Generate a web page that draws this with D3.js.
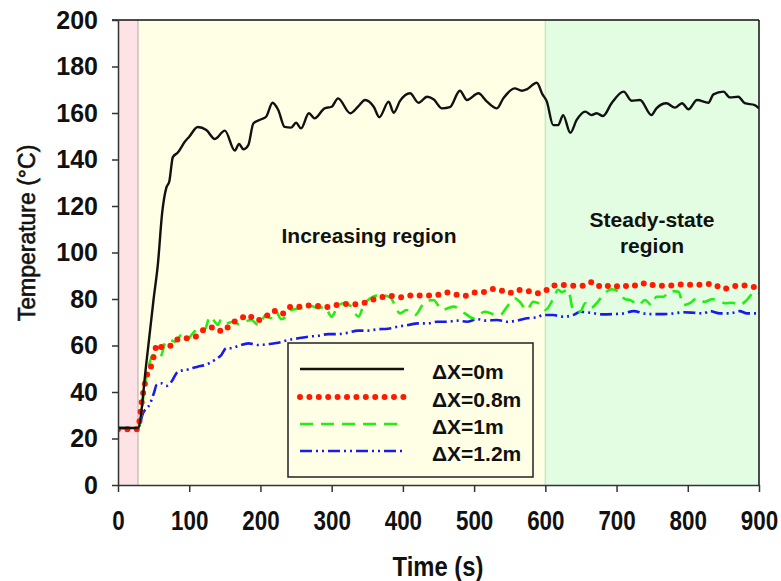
<!DOCTYPE html>
<html>
<head>
<meta charset="utf-8">
<script src="https://cdn.jsdelivr.net/npm/d3@7"></script>
<style>
  html, body { margin: 0; padding: 0; background: #ffffff; }
  svg { display: block; font-family: "Liberation Sans", Arial, sans-serif; }
</style>
</head>
<body>
<svg id="chart" width="781" height="581"></svg>
<script>
// ---------------- DATA ----------------
const xTicks = [0, 100, 200, 300, 400, 500, 600, 700, 800, 900];
const yTicks = [0, 20, 40, 60, 80, 100, 120, 140, 160, 180, 200];

const regionBounds = [0, 28, 600, 900];           // ignition / increasing / steady-state (s)
const regionNames = ["", "Increasing region", "Steady-state\nregion"];

const seriesNames = ["\u0394X=0m", "\u0394X=0.8m", "\u0394X=1m", "\u0394X=1.2m"];

const blackT = [0,28,40,50,56,62,68,72,77,84,94,100,112,124,136,150,164,170,176,183,190,201,208,217,225,234,243,250,257,268,276,290,300,309,326,337,347,359,367,380,387,396,410,422,434,443,455,466,480,490,506,518,532,541,557,567,574,588,596,602,611,618,625,635,644,656,665,672,681,693,710,721,733,749,756,770,782,792,801,813,829,836,850,859,871,880,894,900];
const blackV = [24.5,24.5,53,80,95,117,128,130.5,141,143,147.7,149.8,154,152.7,148.8,152.4,143.8,146.7,144.4,146.2,155.5,157.3,158.4,164.4,161.3,154,153.7,155.8,153.4,159.9,157.7,162,162.7,166.3,159.9,162.7,165.6,162.7,158.2,164.9,160.1,165.2,168.5,164.4,167,165.9,162,162.5,169.6,165.6,168.5,164.9,162,166.3,170.6,169.6,170.2,173,168,165,154.8,154.8,159.1,151.5,157,160.6,159.1,159.9,158.7,164.2,169.2,165.3,165.6,159.1,162,164.2,162.3,164.2,161.6,165.6,164.4,168,169.2,166.7,167,164.2,163.4,162];

const redT = [0,28,30,33,37,40,47,51,55,62,73,82,96,109,122,136,147,159,171,183,193,206,218,229,243,255,267,280,294,307,321,334,348,361,374,387,400,413,425,447,460,473,486,499,512,525,536,548,561,574,587,598,609,621,633,643,655,667,680,694,707,720,729,742,755,769,783,796,809,822,835,849,862,875,888,900];
const redV = [24,24,27.2,35,42.3,46.6,51.6,56.3,60.6,59.2,59.8,62.4,63.1,63.8,67,67.8,65.9,69.5,71.3,73.1,70.7,72,75,73.4,76.7,76.7,77.2,77,76.6,77.4,77.8,77.7,78.5,80,81,81.3,80.7,81.6,81.5,81.7,82.9,82,81.3,82.7,82.9,84.3,83.9,82.4,83.9,83.6,82.4,83,85.6,86,85.9,85.7,85.7,87.4,84.9,86,85,86.3,85.6,87,85.7,85.7,86,86.3,86,86.3,86.5,84.3,85.3,86,85.3,85];

const greenT = [0,28,33,37,42,49,56,61,66,73,80,89,96,105,115,122,129,136,140,145,152,162,169,178,187,197,208,214,222,229,236,243,257,271,281,290,300,307,316,325,338,344,354,368,382,396,405,417,431,443,455,471,487,499,515,527,536,548,557,564,574,583,590,600,611,618,623,632,639,649,656,663,672,681,693,703,712,719,731,740,749,756,766,775,787,794,803,813,824,834,843,852,862,873,883,894,900];
const greenV = [24.5,24.5,30.8,42.3,49.5,55.9,54.5,55.9,61,62.4,61.6,64.5,62.4,65.2,67.8,67,72.4,70.2,68.8,71.3,69.5,70.2,69.2,70.2,71,68.8,73.1,71.7,74.5,71.3,72.4,75.3,76,77,76,76.7,72.4,76,78.2,77.4,72.4,76.7,80.3,81.7,80.7,73.8,75.3,73.1,78.8,79.6,75.3,76.7,73.8,71.7,74.5,73.5,73.1,77.4,80.3,78.8,75.3,78.8,78.2,75.3,80,84,83,84,75.3,74.5,78.2,76,78.2,81.7,84.2,83.1,79.9,79.6,77.4,79.6,77.4,81,81,83.4,83.1,77.4,78.2,80.3,78.8,79.9,79.3,78.2,78.4,77.4,79.6,83.1,82.4];

const blueT = [0,28,35,45,51,54,61,68,75,84,98,112,122,136,145,152,159,169,183,197,211,225,239,253,267,281,295,309,323,337,351,365,379,393,407,421,435,448,462,476,490,504,518,532,546,560,574,588,597,611,625,639,649,663,681,695,710,724,738,752,766,780,794,808,822,831,845,859,873,883,900];
const blueV = [24.5,24.5,30.8,35,40.1,43,43.7,42.6,44.4,48.7,49.7,50.9,51.6,53.8,55.9,58.8,58.8,59.8,60.9,60.2,60.6,61.2,62.4,63.1,63.8,64.2,64.9,64.9,65.5,66.4,66.4,67,67.2,68.1,68.8,69.5,69.5,70.2,70.2,70.7,70.2,71.3,70.7,71,70.2,70.7,71.7,72.1,73.1,73.1,72.4,73.1,74.5,74.1,73.4,73.5,73.8,74.8,73.8,73.5,73.5,73.8,74.3,74.1,73.8,74.8,73.8,73.8,74.8,73.8,73.8];

// ---------------- LAYOUT ----------------
const svg = d3.select("#chart");
const L = 118, R = 759, T = 20, B = 485;
const x = d3.scaleLinear().domain([0, 900]).range([L, R]);
const y = d3.scaleLinear().domain([0, 200]).range([B, T]);

const regionFill = ["#fde3e6", "#ffffe6", "#e3fde3"];
const regionEdge = ["#c9c0c0", "#cde8c0"];

// background regions
for (let i = 0; i < 3; i++) {
  svg.append("rect")
    .attr("x", x(regionBounds[i])).attr("y", T)
    .attr("width", x(regionBounds[i + 1]) - x(regionBounds[i]))
    .attr("height", B - T)
    .attr("fill", regionFill[i]);
}
for (let i = 1; i < 3; i++) {
  svg.append("line")
    .attr("x1", x(regionBounds[i])).attr("x2", x(regionBounds[i]))
    .attr("y1", T).attr("y2", B)
    .attr("stroke", regionEdge[i - 1]).attr("stroke-width", 1.5);
}

// region annotations
svg.append("text").attr("x", 369).attr("y", 243).attr("text-anchor", "middle")
  .attr("font-size", 21).attr("font-weight", "bold").attr("fill", "#111")
  .text(regionNames[1]);
const ss = regionNames[2].split("\n");
ss.forEach((s, i) => {
  svg.append("text").attr("x", 652).attr("y", 227 + i * 26).attr("text-anchor", "middle")
    .attr("font-size", 21).attr("font-weight", "bold").attr("fill", "#111")
    .text(s);
});

// clip
svg.append("clipPath").attr("id", "plotclip").append("rect")
  .attr("x", L).attr("y", T).attr("width", R - L).attr("height", B - T);

const styles = [
  { color: "#111111", width: 2.4, dash: null, cap: "butt" },
  { color: "#ff1a00", width: 6, dash: "0,9.4", cap: "round" },
  { color: "#22ee11", width: 2.6, dash: "13,8", cap: "butt" },
  { color: "#1a1aee", width: 2.6, dash: "12,4,2,4,2,4", cap: "butt" }
];
const seriesT = [blackT, redT, greenT, blueT];
const seriesV = [blackV, redV, greenV, blueV];

const line = d3.line().x(d => x(d[0])).y(d => y(d[1])).curve(d3.curveMonotoneX);
const gLines = svg.append("g").attr("clip-path", "url(#plotclip)");
for (let k = 3; k >= 0; k--) {
  const pts = seriesT[k].map((t, i) => [t, seriesV[k][i]]);
  gLines.append("path").datum(pts)
    .attr("d", line)
    .attr("fill", "none")
    .attr("stroke", styles[k].color)
    .attr("stroke-width", styles[k].width)
    .attr("stroke-linecap", styles[k].cap)
    .attr("stroke-linejoin", "round")
    .attr("stroke-dasharray", styles[k].dash);
}

// frame (top & right)
svg.append("line").attr("x1", L - 6).attr("x2", R).attr("y1", T).attr("y2", T)
  .attr("stroke", "#111").attr("stroke-width", 1.5);
svg.append("line").attr("x1", R).attr("x2", R).attr("y1", T).attr("y2", B)
  .attr("stroke", "#111").attr("stroke-width", 1.5);

// axes
const yAxis = svg.append("g").attr("transform", `translate(${L},0)`)
  .call(d3.axisLeft(y).tickValues(yTicks).tickSize(6).tickPadding(14).tickSizeOuter(0));
yAxis.select(".domain").attr("stroke", "#333").attr("stroke-width", 1.5);
yAxis.selectAll(".tick line").attr("stroke", "#333").attr("stroke-width", 1.5);
yAxis.selectAll(".tick text").attr("font-size", 25).attr("font-weight", "bold")
  .attr("fill", "#111").attr("font-family", "Liberation Sans, Arial, sans-serif");

const xAxis = svg.append("g").attr("transform", `translate(0,${B})`)
  .call(d3.axisBottom(x).tickValues(xTicks).tickFormat(d3.format("d")).tickSize(7).tickPadding(18).tickSizeOuter(0));
xAxis.select(".domain").attr("stroke", "#333").attr("stroke-width", 1.5);
xAxis.selectAll(".tick line").attr("stroke", "#333").attr("stroke-width", 1.5);
xAxis.selectAll(".tick text").attr("font-size", 28).attr("font-weight", "bold")
  .attr("fill", "#111").attr("font-family", "Liberation Sans, Arial, sans-serif")
  .attr("transform", "scale(0.8,1)");

// axis titles
svg.append("text").attr("transform", "translate(438,576) scale(0.85,1)")
  .attr("text-anchor", "middle").attr("font-size", 28).attr("font-weight", "bold")
  .attr("fill", "#111").text("Time (s)");
svg.append("text").attr("transform", "translate(35,233) rotate(-90)")
  .attr("text-anchor", "middle").attr("font-size", 23).attr("fill", "#111")
  .attr("stroke", "#111").attr("stroke-width", 0.6)
  .text("Temperature (\u00B0C)");

// legend
const lg = svg.append("g");
lg.append("rect").attr("x", 288).attr("y", 343).attr("width", 245).attr("height", 134)
  .attr("fill", "#ffffe6").attr("stroke", "#222").attr("stroke-width", 1.5);
const rowY = [369, 397, 424, 451];
seriesNames.forEach((n, k) => {
  lg.append("line").attr("x1", 300).attr("x2", 404)
    .attr("y1", rowY[k]).attr("y2", rowY[k])
    .attr("stroke", styles[k].color).attr("stroke-width", styles[k].width)
    .attr("stroke-linecap", styles[k].cap)
    .attr("stroke-dasharray", styles[k].dash);
  lg.append("text").attr("x", 432).attr("y", rowY[k] + 10)
    .attr("font-size", 21).attr("font-weight", "bold").attr("fill", "#111")
    .text(n);
});
</script>
</body>
</html>
